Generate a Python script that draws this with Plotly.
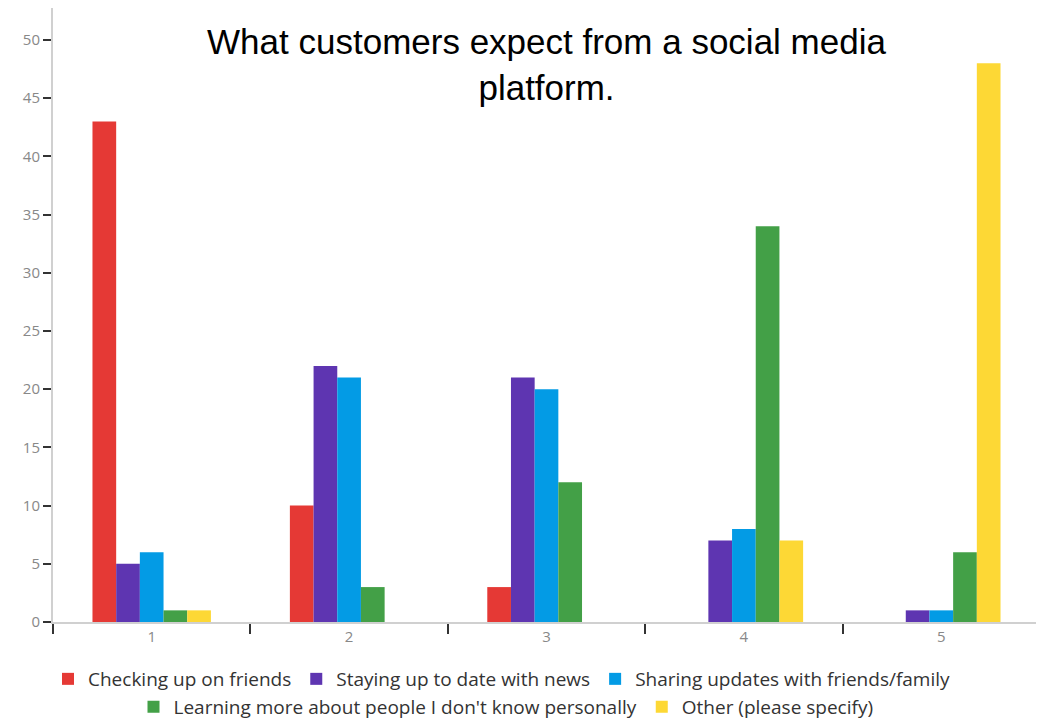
import plotly.graph_objects as go

categories = ["1", "2", "3", "4", "5"]
series_names = [
    "Checking up on friends",
    "Staying up to date with news",
    "Sharing updates with friends/family",
    "Learning more about people I don't know personally",
    "Other (please specify)",
]
checking = [43, 10, 3, 0, 0]
news = [5, 22, 21, 7, 1]
sharing = [6, 21, 20, 8, 1]
learning = [1, 3, 12, 34, 6]
other = [1, 0, 0, 7, 48]
y_ticks = [0, 5, 10, 15, 20, 25, 30, 35, 40, 45, 50]

colors = ["#E53935", "#5E35B1", "#039BE5", "#43A047", "#FDD835"]
values = [checking, news, sharing, learning, other]
legend_ids = ["legend", "legend", "legend", "legend2", "legend2"]

W, H = 1036, 713  # page body has an 8px margin inside the 1044x721 window

fig = go.Figure()
for name, vals, col, lg in zip(series_names, values, colors, legend_ids):
    fig.add_trace(go.Bar(x=categories, y=vals, name=name,
                         marker=dict(color=col, line=dict(width=0)),
                         legend=lg))

legend_common = dict(orientation="h", xref="container", yref="container",
                     xanchor="center", yanchor="middle",
                     font=dict(family="Open Sans", size=19, color="#333333"),
                     bgcolor="rgba(0,0,0,0)", itemwidth=30, tracegroupgap=0)

fig.update_layout(
    width=W, height=H,
    margin=dict(l=45, r=4, t=0, b=99, autoexpand=False),
    paper_bgcolor="white", plot_bgcolor="white",
    barmode="group", bargap=0.40, bargroupgap=0,
    title=dict(text="What customers expect from a social media<br>platform.",
               x=0.5, xref="paper", xanchor="center",
               y=1 - 46 / H, yref="container", yanchor="top",
               font=dict(family="Liberation Sans, Arial", size=35, color="#000000")),
    legend=dict(x=494 / W, y=1 - 671 / H, **legend_common),
    legend2=dict(x=498 / W, y=1 - 699 / H, **legend_common),
    xaxis=dict(type="category", showline=True, linecolor="#d0d0d0", linewidth=2,
               ticks="outside", tickson="boundaries", ticklen=10, tickwidth=2,
               tickcolor="#333333", showgrid=False, zeroline=False,
               tickfont=dict(family="Open Sans", size=15, color="#888888")),
    yaxis=dict(range=[0, 52.75], tickvals=y_ticks, showline=True, linecolor="#d0d0d0",
               linewidth=2, ticks="outside", ticklen=8, tickwidth=2,
               tickcolor="#333333", showgrid=False, zeroline=False,
               tickfont=dict(family="Open Sans", size=15, color="#888888")),
)

fig.write_html("out.html")
